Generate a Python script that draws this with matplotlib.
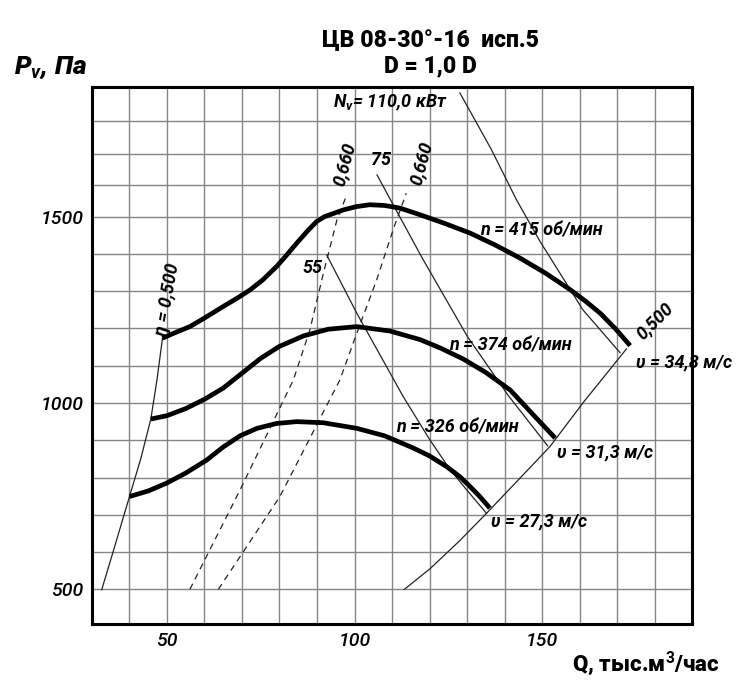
import matplotlib
matplotlib.use("Agg")
import matplotlib.pyplot as plt

plt.rcParams['font.family'] = ['Roboto', 'DejaVu Sans']
plt.rcParams['mathtext.fontset'] = 'custom'
plt.rcParams['mathtext.it'] = 'Roboto:italic:bold'
plt.rcParams['mathtext.rm'] = 'Roboto:bold'

# fan curves (Q, тыс.м3/час ; Pv, Па)
q_415 = [48.8, 52.0, 56.1, 60.0, 65.0, 68.5, 72.1, 75.5, 79.2, 82.0, 84.6, 87.5, 89.9, 92.0, 97.0, 100.5,
         104.1, 108.0, 112.1, 117.5, 124.0, 130.8, 137.5, 144.1, 151.0, 157.5, 161.5, 165.5, 169.5, 173.5]
p_415 = [1174, 1188, 1205, 1228, 1259, 1280, 1303, 1330, 1366, 1398, 1429, 1462, 1487, 1500, 1518, 1527,
         1532, 1530, 1523, 1505, 1482, 1456, 1424, 1389, 1348, 1304, 1274, 1241, 1200, 1154]
q_374 = [45.7, 50.0, 55.0, 60.0, 65.0, 70.0, 75.0, 80.0, 86.4, 93.0, 100.6, 109.5, 117.5, 123.0,
         129.0, 135.0, 141.5, 147.7, 153.5]
p_374 = [957, 966, 985, 1010, 1040, 1080, 1120, 1152, 1180, 1198, 1205, 1193, 1170, 1147,
         1118, 1082, 1035, 968, 906]
q_326 = [40.0, 45.0, 49.9, 55.0, 60.6, 65.0, 69.5, 74.0, 79.2, 84.6, 91.7, 100.6, 108.0, 115.5,
         120.0, 124.6, 128.0, 130.8, 133.5, 136.1]
p_326 = [749, 764, 785, 812, 847, 882, 912, 932, 945, 950, 947, 932, 912, 880,
         858, 829, 803, 776, 748, 718]

# eta = 0,500 boundaries
q_eta_l = [32.6, 36.2, 40.0, 43.0, 45.7, 47.3, 48.8]
p_eta_l = [499, 620, 749, 850, 957, 1060, 1174]
q_eta_r = [113.3, 120.1, 128.0, 135.2, 144.0, 152.1, 161.2, 172.5]
p_eta_r = [500, 555, 630, 704, 797, 883, 1004, 1145]

# eta = 0,660 (dashed)
q_660a = [56.1, 69.5, 83.7, 88.1, 91.7, 95.3, 98.0]
p_660a = [500, 767, 1062, 1196, 1348, 1491, 1560]
q_660b = [63.7, 80.1, 96.1, 100.6, 105.9, 110.3, 113.8]
p_660b = [500, 749, 1062, 1187, 1330, 1465, 1563]

# power lines, кВт
q_n55 = [92.6, 100.6, 113.0, 120.1, 125.5, 129.9, 135.2]
p_n55 = [1397, 1241, 1017, 901, 821, 767, 704]
q_n75 = [106.0, 110.8, 118.0, 130.0, 141.0, 151.5]
p_n75 = [1612, 1523, 1390, 1180, 1020, 885]
q_n110 = [128.1, 136.5, 143.2, 149.5, 160.9, 170.8]
p_n110 = [1832, 1680, 1545, 1433, 1250, 1135]

grid_x = list(range(40, 190, 10))
grid_y = [500, 600, 700, 800, 900, 1000, 1100, 1200, 1300, 1400, 1500, 1585, 1668, 1757]

fig = plt.figure(figsize=(7.37, 6.81), dpi=100)
ax = fig.add_axes([0.1248, 0.0837, 0.8142, 0.7886])
ax.set_xlim(30, 190)
ax.set_ylim(407, 1848)

ax.vlines(grid_x, 407, 1848, colors='#858585', lw=1.0, zorder=1)
ax.hlines(grid_y, 30, 190, colors='#858585', lw=1.0, zorder=1)

thin = dict(color='#222222', lw=0.9, zorder=2)
ax.plot(q_eta_l, p_eta_l, **thin)
ax.plot(q_eta_r, p_eta_r, **thin)
ax.plot(q_n55, p_n55, **thin)
ax.plot(q_n75, p_n75, **thin)
ax.plot(q_n110, p_n110, **thin)
ax.plot(q_660a, p_660a, color='#222222', lw=0.9, ls=(0, (5, 4)), zorder=2)
ax.plot(q_660b, p_660b, color='#222222', lw=0.9, ls=(0, (5, 4)), zorder=2)

for q, p in [(q_415, p_415), (q_374, p_374), (q_326, p_326)]:
    ax.plot(q, p, color='black', lw=3.4, solid_capstyle='butt', solid_joinstyle='round', zorder=3)

for s in ax.spines.values():
    s.set_linewidth(2.2)
ax.set_xticks([50, 100, 150])
ax.set_yticks([500, 1000, 1500])
ax.tick_params(length=0, labelsize=14, pad=6)
for lab in ax.get_xticklabels() + ax.get_yticklabels():
    lab.set_fontstyle('italic')
    lab.set_fontweight('medium')

lbl = dict(fontsize=13, fontstyle='italic', fontweight='bold', ha='center', va='center', zorder=4)
ax.text(149.7, 1462, 'n = 415 об/мин', **lbl)
ax.text(141.5, 1153, 'n = 374 об/мин', **lbl)
ax.text(127.3, 933, 'n = 326 об/мин', **lbl)
vl = dict(fontsize=13, fontstyle='italic', fontweight='bold', ha='left', va='center', zorder=4)
ax.text(175.1, 1110, 'υ = 34,8 м/с', **vl)
ax.text(154.0, 867, 'υ = 31,3 м/с', **vl)
ax.text(136.4, 681, 'υ = 27,3 м/с', **vl)
ax.text(109.5, 1805, r'N$_v$= 110,0 кВт', **lbl)
ax.text(107.1, 1652, '75', **lbl)
ax.text(88.7, 1363, '55', **lbl)
ax.text(97.5, 1639, '0,660', rotation=75, **lbl)
ax.text(118.0, 1644, '0,660', rotation=75, **lbl)
ax.text(50.0, 1277, 'η = 0,500', rotation=80, **lbl)
ax.text(180.1, 1218, '0,500', rotation=45, **lbl)

head = dict(fontsize=16.5, fontweight='heavy', ha='center', va='center')
fig.text(0.584, 0.941, 'ЦВ 08-30°-16  исп.5', **head)
fig.text(0.584, 0.903, 'D = 1,0 D', **head)
fig.text(0.019, 0.90, r'P$_v$, Па', fontsize=19, fontweight='heavy', fontstyle='italic', ha='left', va='center')
fig.text(0.977, 0.025, r'Q, тыс.м$^3$/час', fontsize=16, fontweight='heavy', ha='right', va='center')

fig.savefig('out.png', dpi=100)
